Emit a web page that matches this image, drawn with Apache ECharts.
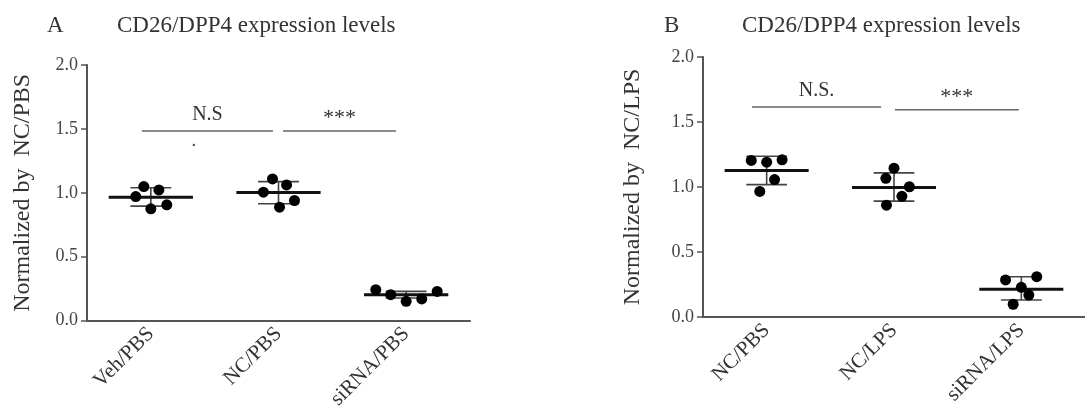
<!DOCTYPE html>
<html>
<head>
<meta charset="utf-8">
<script src="https://cdn.jsdelivr.net/npm/echarts@6/dist/echarts.min.js"></script>
<style>
html,body{margin:0;padding:0;background:#fff;}
#chart{width:1085px;height:412px;}
</style>
</head>
<body>
<div id="chart"></div>
<script>
// ---------- data ----------
const catsA = ['Veh/PBS', 'NC/PBS', 'siRNA/PBS'];
const catsB = ['NC/PBS', 'NC/LPS', 'siRNA/LPS'];

// Panel A individual points (values) and horizontal jitter (category units)
const vehPBS_A   = [0.971, 1.049, 1.023, 0.875, 0.906];
const vehPBS_Ajit = [-0.118, -0.055, 0.063, 0.000, 0.125];
const ncPBS_A    = [1.109, 1.062, 1.005, 0.940, 0.888];
const ncPBS_Ajit = [-0.047, 0.063, -0.118, 0.125, 0.008];
const siPBS_A    = [0.242, 0.203, 0.151, 0.170, 0.229];
const siPBS_Ajit = [-0.238, -0.121, 0.000, 0.122, 0.243];
const meanA   = [0.966, 1.002, 0.203];
const sdLowA  = [0.896, 0.914, 0.177];
const sdHighA = [1.040, 1.088, 0.229];
const strayA  = [[0.337, 1.375]];

// Panel B
const ncPBS_B    = [1.204, 1.191, 1.209, 1.057, 0.966];
const ncPBS_Bjit = [-0.121, 0.000, 0.121, 0.062, -0.054];
const ncLPS_B    = [1.145, 1.067, 1.002, 0.928, 0.860];
const ncLPS_Bjit = [0.000, -0.064, 0.121, 0.062, -0.059];
const siLPS_B    = [0.285, 0.310, 0.228, 0.169, 0.098];
const siLPS_Bjit = [-0.124, 0.121, 0.000, 0.059, -0.064];
const meanB   = [1.126, 0.997, 0.213];
const sdLowB  = [1.018, 0.891, 0.131];
const sdHighB = [1.237, 1.109, 0.310];

// significance bars: [x start, x end, y]
const sigA = [[-0.07, 0.957, 1.484], [1.035, 1.92, 1.484]];
const sigAText = ['N.S', '***'];
const sigB = [[-0.115, 0.899, 1.615], [1.007, 1.98, 1.594]];
const sigBText = ['N.S.', '***'];

const yMin = 0, yMax = 2, yStep = 0.5;

// ---------- styling ----------
const SERIF = '"Liberation Serif", "DejaVu Serif", serif';
const AX = '#555';
const TXT = '#333';
const MEAN_HALF = 0.33, CAP_HALF = 0.16;

function pts(vals, jit, cat) {
  return vals.map((v, i) => [cat + jit[i], v]);
}

function errSeries(xi, yi, means, lo, hi) {
  return {
    type: 'custom', xAxisIndex: xi, yAxisIndex: yi, z: 2,
    data: means.map((m, i) => [i, m, lo[i], hi[i]]),
    renderItem: function (params, api) {
      const x = api.value(0);
      const pm = api.coord([x, api.value(1)]);
      const pl = api.coord([x, api.value(2)]);
      const ph = api.coord([x, api.value(3)]);
      const wm = api.size([MEAN_HALF, 0])[0];
      const wc = api.size([CAP_HALF, 0])[0];
      const sd = {stroke: '#444', lineWidth: 1.6};
      return {type: 'group', children: [
        {type: 'line', shape: {x1: pl[0], y1: pl[1], x2: ph[0], y2: ph[1]}, style: sd},
        {type: 'line', shape: {x1: ph[0] - wc, y1: ph[1], x2: ph[0] + wc, y2: ph[1]}, style: sd},
        {type: 'line', shape: {x1: pl[0] - wc, y1: pl[1], x2: pl[0] + wc, y2: pl[1]}, style: sd},
        {type: 'line', shape: {x1: pm[0] - wm, y1: pm[1], x2: pm[0] + wm, y2: pm[1]}, style: {stroke: '#111', lineWidth: 3}}
      ]};
    }
  };
}

function sigSeries(xi, yi, bars, texts) {
  return {
    type: 'custom', xAxisIndex: xi, yAxisIndex: yi, z: 3,
    data: bars,
    renderItem: function (params, api) {
      const p1 = api.coord([api.value(0), api.value(2)]);
      const p2 = api.coord([api.value(1), api.value(2)]);
      const t = texts[params.dataIndex];
      const star = t === '***';
      return {type: 'group', children: [
        {type: 'line', shape: {x1: p1[0], y1: p1[1], x2: p2[0], y2: p2[1]}, style: {stroke: '#666', lineWidth: 1.6}},
        {type: 'text', x: (p1[0] + p2[0]) / 2, y: p1[1] - (star ? 2 : 6),
         style: {text: t, fill: TXT, font: (star ? '22px ' : '20px ') + SERIF, align: 'center', verticalAlign: 'bottom'}}
      ]};
    }
  };
}

function dotSeries(xi, yi, data) {
  return {type: 'scatter', xAxisIndex: xi, yAxisIndex: yi, z: 4, symbol: 'circle', symbolSize: 11,
          itemStyle: {color: '#000', opacity: 1}, data: data, silent: true};
}

function catAxis(g, cats) {
  return {
    type: 'category', gridIndex: g, data: cats,
    axisLine: {onZero: false, lineStyle: {color: AX, width: 2}},
    axisTick: {alignWithLabel: true, length: 6, lineStyle: {color: AX, width: 1.5}},
    axisLabel: {interval: 0, rotate: 45, margin: 10, fontSize: 21, fontFamily: SERIF, color: TXT},
    splitLine: {show: false}
  };
}
function valXAxis(g) {
  return {type: 'value', gridIndex: g, min: -0.5, max: 2.5, show: false};
}
function yAx(g, name, gap) {
  return {
    type: 'value', gridIndex: g, min: yMin, max: yMax, interval: yStep,
    axisLine: {show: true, onZero: false, lineStyle: {color: AX, width: 2}},
    axisTick: {show: true, length: 6, lineStyle: {color: AX, width: 1.5}},
    splitLine: {show: false},
    axisLabel: {formatter: v => v.toFixed(1), fontSize: 18, fontFamily: SERIF, color: '#444', margin: 9},
    name: name, nameLocation: 'middle', nameGap: gap,
    nameTextStyle: {fontSize: 24, fontFamily: SERIF, color: TXT}
  };
}

const chart = echarts.init(document.getElementById('chart'), null, {renderer: 'canvas'});
chart.setOption({
  animation: false,
  backgroundColor: '#fff',
  title: [
    {text: 'A', left: 47, top: 14, padding: 0, textStyle: {fontSize: 23, fontWeight: 'normal', fontFamily: SERIF, color: TXT}},
    {text: 'CD26/DPP4 expression levels', left: 117, top: 14, padding: 0, textStyle: {fontSize: 23, fontWeight: 'normal', fontFamily: SERIF, color: TXT}},
    {text: 'B', left: 664, top: 14, padding: 0, textStyle: {fontSize: 23, fontWeight: 'normal', fontFamily: SERIF, color: TXT}},
    {text: 'CD26/DPP4 expression levels', left: 742, top: 14, padding: 0, textStyle: {fontSize: 23, fontWeight: 'normal', fontFamily: SERIF, color: TXT}}
  ],
  grid: [
    {left: 87, top: 65, width: 383, height: 256},
    {left: 703, top: 57, width: 388, height: 260}
  ],
  xAxis: [catAxis(0, catsA), valXAxis(0), catAxis(1, catsB), valXAxis(1)],
  yAxis: [yAx(0, 'Normalized by  NC/PBS', 52), yAx(1, 'Normalized by  NC/LPS', 58)],
  series: [
    errSeries(1, 0, meanA, sdLowA, sdHighA),
    dotSeries(1, 0, [].concat(pts(vehPBS_A, vehPBS_Ajit, 0), pts(ncPBS_A, ncPBS_Ajit, 1), pts(siPBS_A, siPBS_Ajit, 2))),
    {type: 'scatter', xAxisIndex: 1, yAxisIndex: 0, symbolSize: 2.5, itemStyle: {color: '#555', opacity: 1}, data: strayA, silent: true},
    sigSeries(1, 0, sigA, sigAText),
    errSeries(3, 1, meanB, sdLowB, sdHighB),
    dotSeries(3, 1, [].concat(pts(ncPBS_B, ncPBS_Bjit, 0), pts(ncLPS_B, ncLPS_Bjit, 1), pts(siLPS_B, siLPS_Bjit, 2))),
    sigSeries(3, 1, sigB, sigBText)
  ]
});
</script>
</body>
</html>
